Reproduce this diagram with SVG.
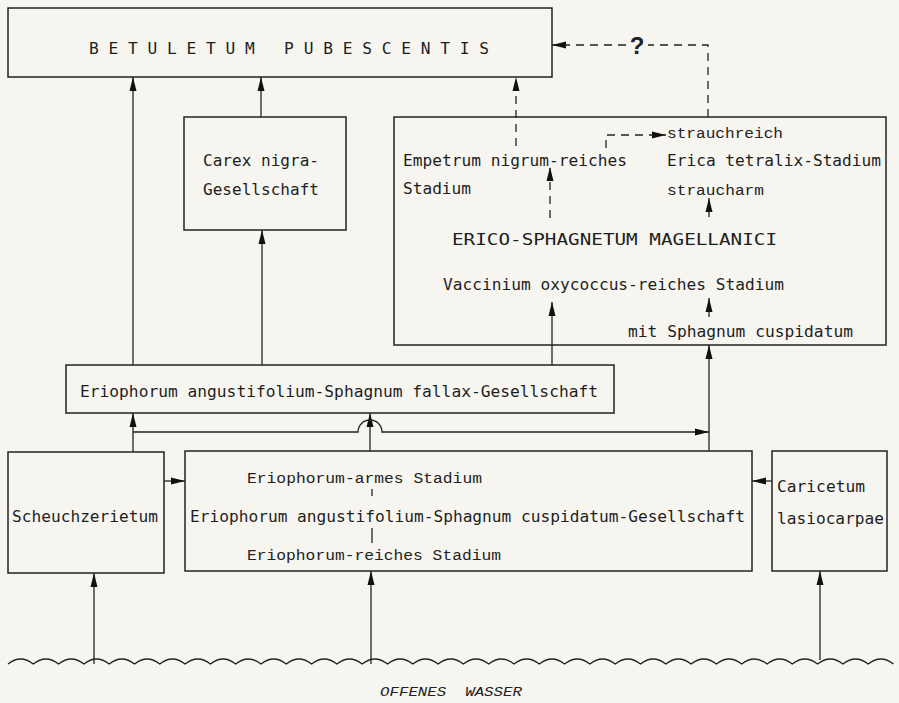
<svg xmlns="http://www.w3.org/2000/svg" width="899" height="703" viewBox="0 0 899 703">
<style>
.bg{fill:#f6f5f0}
.box{fill:none;stroke:#222;stroke-width:1.5}
.ln{fill:none;stroke:#222;stroke-width:1.3}
.dash{fill:none;stroke:#222;stroke-width:1.3;stroke-dasharray:8 6}
.t{font-family:"DejaVu Sans Mono","Liberation Mono",monospace;font-size:16.5px;fill:#1e1e1e}
.s{font-family:"Liberation Mono","Courier New",monospace;font-size:15.5px;fill:#222}
.w{font-family:"Liberation Mono","Courier New",monospace;font-size:13px;font-style:italic;fill:#222}
.q{font-family:"Liberation Sans",Arial,sans-serif;font-size:24px;font-weight:bold;fill:#222}
.pre{white-space:pre}
</style>
<defs>
<marker id="ah" markerWidth="16" markerHeight="8" refX="14" refY="4" orient="auto" markerUnits="userSpaceOnUse">
<path d="M0,0.5 L14,4 L0,7.5 z" fill="#111"/>
</marker>
</defs>
<rect class="bg" x="0" y="0" width="899" height="703"/>

<g id="betuletum">
<rect class="box" x="8" y="8" width="544" height="69"/>
<text class="t pre" xml:space="preserve" x="89" y="54" font-size="18" textLength="400" lengthAdjust="spacingAndGlyphs">B E T U L E T U M   P U B E S C E N T I S</text>
</g>

<g id="carex">
<rect class="box" x="184" y="117" width="162" height="113"/>
<text class="t" x="203" y="166" textLength="116" lengthAdjust="spacingAndGlyphs">Carex nigra-</text>
<text class="t" x="203" y="195" textLength="116" lengthAdjust="spacingAndGlyphs">Gesellschaft</text>
</g>

<g id="erico">
<rect class="box" x="394" y="117" width="492" height="228"/>
<text class="s" x="667" y="138" textLength="116" lengthAdjust="spacingAndGlyphs">strauchreich</text>
<text class="t" x="403" y="166" textLength="224" lengthAdjust="spacingAndGlyphs">Empetrum nigrum-reiches</text>
<text class="t" x="667" y="166" textLength="214" lengthAdjust="spacingAndGlyphs">Erica tetralix-Stadium</text>
<text class="t" x="403" y="194" textLength="68" lengthAdjust="spacingAndGlyphs">Stadium</text>
<text class="s" x="667" y="195" textLength="97" lengthAdjust="spacingAndGlyphs">straucharm</text>
<text class="t" x="452" y="245" font-size="17" textLength="325" lengthAdjust="spacingAndGlyphs">ERICO-SPHAGNETUM MAGELLANICI</text>
<text class="t" x="443" y="290" textLength="341" lengthAdjust="spacingAndGlyphs">Vaccinium oxycoccus-reiches Stadium</text>
<text class="t" x="628" y="337" textLength="225" lengthAdjust="spacingAndGlyphs">mit Sphagnum cuspidatum</text>
</g>

<g id="fallax">
<rect class="box" x="66" y="365" width="548" height="48"/>
<text class="t" x="80" y="397" textLength="518" lengthAdjust="spacingAndGlyphs">Eriophorum angustifolium-Sphagnum fallax-Gesellschaft</text>
</g>

<g id="scheuchzerietum">
<rect class="box" x="8" y="452" width="156" height="121"/>
<text class="t" x="12" y="522" textLength="146" lengthAdjust="spacingAndGlyphs">Scheuchzerietum</text>
</g>

<g id="cuspidatum">
<rect class="box" x="185" y="451" width="567" height="120"/>
<text class="s" x="247" y="483" textLength="235" lengthAdjust="spacingAndGlyphs">Eriophorum-armes Stadium</text>
<text class="t" x="190" y="522" textLength="555" lengthAdjust="spacingAndGlyphs">Eriophorum angustifolium-Sphagnum cuspidatum-Gesellschaft</text>
<text class="s" x="247" y="560" textLength="254" lengthAdjust="spacingAndGlyphs">Eriophorum-reiches Stadium</text>
<line class="ln" x1="372" y1="489" x2="372" y2="496"/>
<line class="ln" x1="372" y1="528" x2="372" y2="543"/>
</g>

<g id="caricetum">
<rect class="box" x="772" y="451" width="115" height="120"/>
<text class="t" x="777" y="492" textLength="88" lengthAdjust="spacingAndGlyphs">Caricetum</text>
<text class="t" x="777" y="524" textLength="107" lengthAdjust="spacingAndGlyphs">lasiocarpae</text>
</g>

<g id="wasser">
<path class="ln" stroke-width="1.5" d="M8,664 q12.65,-10 25.3,0 q12.65,-10 25.3,0 q12.65,-10 25.3,0 q12.65,-10 25.3,0 q12.65,-10 25.3,0 q12.65,-10 25.3,0 q12.65,-10 25.3,0 q12.65,-10 25.3,0 q12.65,-10 25.3,0 q12.65,-10 25.3,0 q12.65,-10 25.3,0 q12.65,-10 25.3,0 q12.65,-10 25.3,0 q12.65,-10 25.3,0 q12.65,-10 25.3,0 q12.65,-10 25.3,0 q12.65,-10 25.3,0 q12.65,-10 25.3,0 q12.65,-10 25.3,0 q12.65,-10 25.3,0 q12.65,-10 25.3,0 q12.65,-10 25.3,0 q12.65,-10 25.3,0 q12.65,-10 25.3,0 q12.65,-10 25.3,0 q12.65,-10 25.3,0 q12.65,-10 25.3,0 q12.65,-10 25.3,0 q12.65,-10 25.3,0 q12.65,-10 25.3,0 q12.65,-10 25.3,0 q12.65,-10 25.3,0 q12.65,-10 25.3,0 q12.65,-10 25.3,0 q12.65,-10 25.3,0"/>
<text class="w pre" xml:space="preserve" x="380" y="696" textLength="142" lengthAdjust="spacingAndGlyphs">OFFENES  WASSER</text>
</g>

<g id="connectors">
<line class="ln" x1="133" y1="365" x2="133" y2="77" marker-end="url(#ah)"/>
<line class="ln" x1="261" y1="117" x2="261" y2="77" marker-end="url(#ah)"/>
<line class="ln" x1="262" y1="365" x2="262" y2="230" marker-end="url(#ah)"/>
<line class="dash" x1="516" y1="146" x2="516" y2="77" marker-end="url(#ah)"/>
<path class="dash" d="M708,117 L708,45 L552,45" marker-end="url(#ah)"/>
<rect class="bg" x="626" y="30" width="22" height="28"/>
<text class="q" x="637" y="54" text-anchor="middle">?</text>
<path class="dash" d="M606,148 L606,135 L666,135" marker-end="url(#ah)"/>
<line class="dash" x1="550" y1="218" x2="550" y2="167" marker-end="url(#ah)"/>
<line class="ln" x1="709" y1="217" x2="709" y2="198" marker-end="url(#ah)"/>
<line class="ln" x1="709" y1="317" x2="709" y2="298" marker-end="url(#ah)"/>
<line class="ln" x1="552" y1="365" x2="552" y2="302" marker-end="url(#ah)"/>
<line class="ln" x1="709" y1="451" x2="709" y2="345" marker-end="url(#ah)"/>
<line class="ln" x1="133" y1="452" x2="133" y2="413" marker-end="url(#ah)"/>
<line class="ln" x1="370" y1="451" x2="370" y2="413" marker-end="url(#ah)"/>
<path class="ln" d="M133,432 L358,432 A12,12 0 0 1 382,432 L709,432" marker-end="url(#ah)"/>
<line class="ln" x1="164" y1="481" x2="185" y2="481" marker-end="url(#ah)"/>
<line class="ln" x1="772" y1="481" x2="752" y2="481" marker-end="url(#ah)"/>
<line class="ln" x1="94" y1="664" x2="94" y2="573" marker-end="url(#ah)"/>
<line class="ln" x1="371" y1="664" x2="371" y2="571" marker-end="url(#ah)"/>
<line class="ln" x1="820" y1="660" x2="820" y2="571" marker-end="url(#ah)"/>
</g>
</svg>
